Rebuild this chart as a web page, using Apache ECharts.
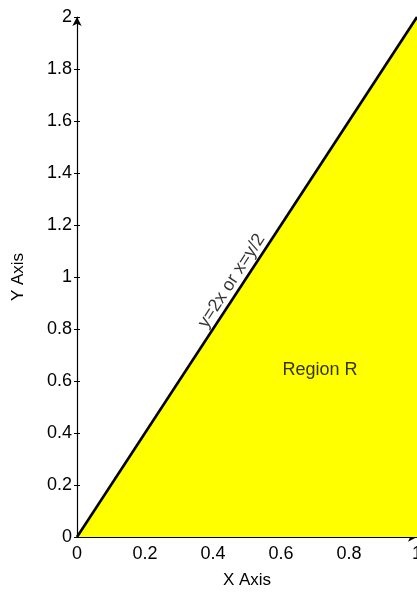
<!DOCTYPE html>
<html>
<head>
<meta charset="utf-8">
<script src="https://cdn.jsdelivr.net/npm/echarts@6/dist/echarts.min.js"></script>
<style>
  html, body { margin: 0; padding: 0; background: #fff; }
  #chart1 { width: 417px; height: 592px; }
</style>
</head>
<body>
<div id="chart1"></div>
<script>
// boundary line y = 2x, from x = 0 to x = 1
const lineX = [0, 1];
const lineY = [0, 2];
// right edge of the region, x = 1
const edgeX = [1, 1];
const edgeY = [0, 2];
// text annotations placed in data coordinates
const noteText = ['y=2x or x=y/2', 'Region R'];
const noteX = [0.455, 0.715];
const noteY = [0.985, 0.642];

const chart = echarts.init(document.getElementById('chart1'));
const font = 'Liberation Sans, Arial, sans-serif';

const option = {
    animation: false,
    grid: { left: 77, right: 0, top: 17, bottom: 55, outerBoundsMode: 'none' },
    xAxis: {
        type: 'value',
        min: 0, max: 1, interval: 0.2,
        name: 'X Axis', nameLocation: 'middle', nameGap: 35,
        nameTextStyle: { color: '#000', fontSize: 17, fontFamily: font },
        axisLine: { lineStyle: { color: '#000', width: 1.2 }, symbol: ['none', 'arrow'], symbolSize: [7, 9] },
        axisTick: { inside: true, length: 4, lineStyle: { color: '#000' } },
        minorTick: { show: true, splitNumber: 2, length: 4, lineStyle: { color: '#000' } },
        axisLabel: { color: '#000', fontSize: 18, fontFamily: font, margin: 8, hideOverlap: false, showMaxLabel: true, showMinLabel: true },
        splitLine: { show: false }
    },
    yAxis: [
        {
            type: 'value',
            min: 0, max: 2, interval: 0.2,
            name: 'Y Axis', nameLocation: 'middle', nameGap: 50,
            nameTextStyle: { color: '#000', fontSize: 17, fontFamily: font },
            axisLine: { show: true, lineStyle: { color: '#000', width: 1.2 }, symbol: ['none', 'arrow'], symbolSize: [7, 9] },
            axisTick: { show: true, inside: true, length: 3, lineStyle: { color: '#000' } },
            axisLabel: { color: '#000', fontSize: 18, fontFamily: font, margin: 5, hideOverlap: false, showMaxLabel: true, showMinLabel: true },
            splitLine: { show: false }
        },
        {
            // second copy of the y axis only for the outer half of the ticks
            type: 'value',
            position: 'left',
            min: 0, max: 2, interval: 0.2,
            axisLine: { show: false },
            axisTick: { show: true, inside: false, length: 3, lineStyle: { color: '#000' } },
            axisLabel: { show: false },
            splitLine: { show: false }
        }
    ],
    series: [
        {
            type: 'line',
            data: lineX.map((x, i) => [x, lineY[i]]),
            showSymbol: false,
            lineStyle: { color: '#000', width: 2.6 },
            areaStyle: { color: '#ffff00', opacity: 1, origin: 'start' },
            z: 3
        },
        {
            type: 'line',
            data: edgeX.map((x, i) => [x, edgeY[i]]),
            showSymbol: false,
            clip: false,
            lineStyle: { color: '#6b6b00', width: 1 },
            z: 2
        },
        {
            type: 'scatter',
            symbolSize: 0,
            data: noteText.map((t, i) => ({ value: [noteX[i], noteY[i]], name: t })),
            label: {
                show: true,
                position: 'inside',
                formatter: p => p.name,
                color: '#000',
                fontSize: 18,
                fontFamily: font
            },
            z: 5
        }
    ]
};

// the boundary label runs along the line
option.series[2].data[0].label = { rotate: 57, fontSize: 18 };

chart.setOption(option);
window.addEventListener('resize', function () { chart.resize(); });
</script>
</body>
</html>
